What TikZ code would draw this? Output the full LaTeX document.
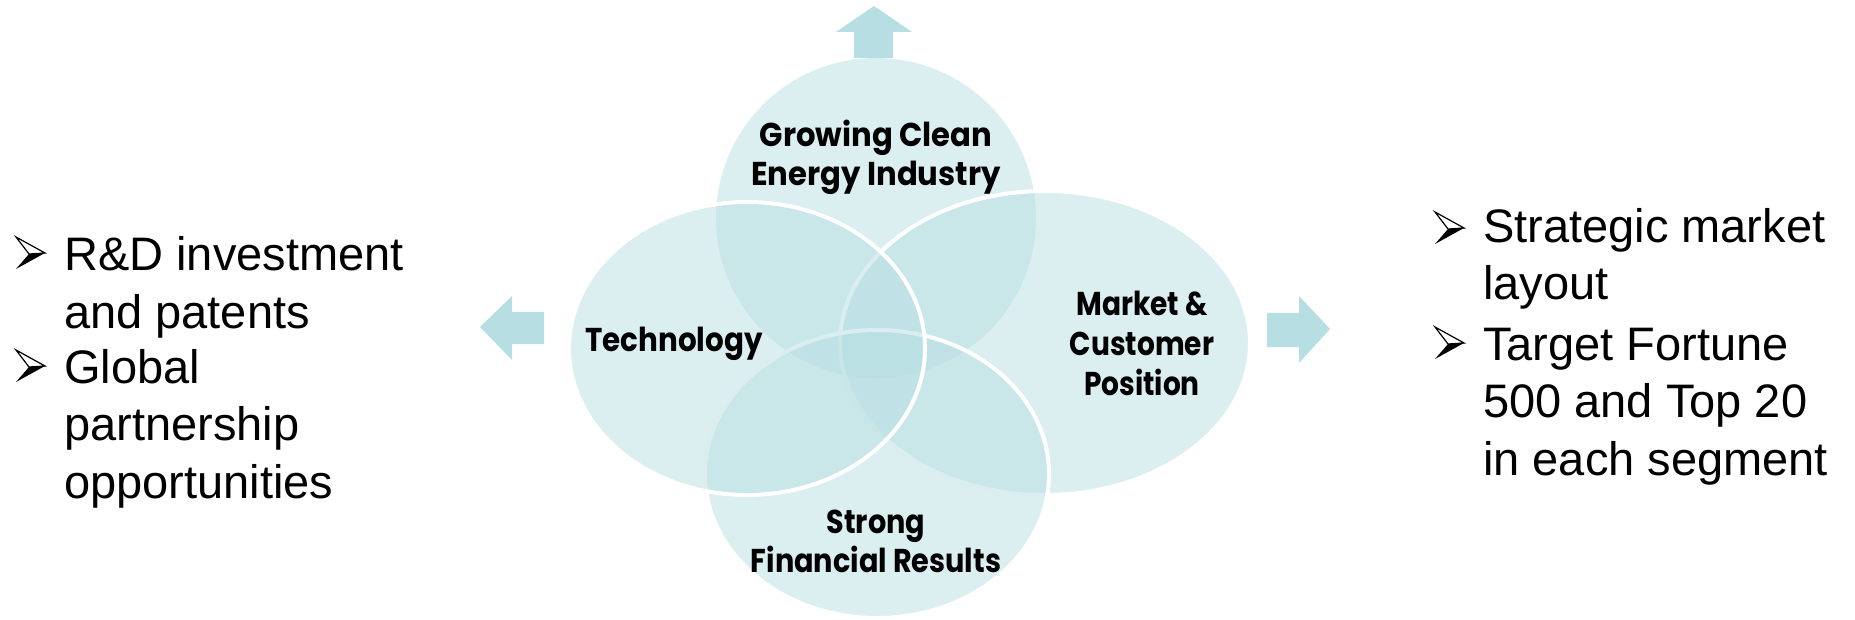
\documentclass[tikz,border=0pt]{standalone}
\usepackage{fontspec}
\setmainfont{Liberation Sans}
\newfontfamily\vennG{Poppins}[FakeStretch=0.93]
\newfontfamily\vennT{Poppins}[FakeStretch=0.89]
\newfontfamily\vennM{Poppins}[FakeStretch=0.85]
\newfontfamily\vennS{Poppins}[FakeStretch=0.87]
\definecolor{arrowc}{RGB}{183,222,226}
\tikzset{
  vennfill/.style={fill=arrowc, fill opacity=0.5},
  vennline/.style={draw=white, line width=4pt},
  blockarrow/.style={fill=arrowc, draw=none},
  venntext/.style={align=center, inner sep=0pt, text=black},
  bullettext/.style={font=\fontsize{47}{57.5}\selectfont, align=left, inner sep=0pt, anchor=base west, text=black},
  arrowbul/.pic={
    \fill[black] (13,1) -- (29,0) -- (0,16) -- cycle;
    \draw[black, fill=white, line width=1.2pt, line join=miter] (0,-16) -- (29,0) -- (13,1) -- cycle;
  }
}
\begin{document}
\begin{tikzpicture}[x=1pt,y=-1pt]
\useasboundingbox (0,0) rectangle (1855,620);
% block arrows
\fill[blockarrow] (874,6) -- (912,32) -- (893,32) -- (893,58) -- (854,58) -- (854,32) -- (836,32) -- cycle;
\fill[blockarrow] (480,327) -- (512,296) -- (512,312) -- (544,312) -- (544,344) -- (512,344) -- (512,360) -- cycle;
\fill[blockarrow] (1330,329) -- (1299,296) -- (1299,313) -- (1267,313) -- (1267,347) -- (1299,347) -- (1299,363) -- cycle;
% venn shapes
\fill[vennfill] (876,218) circle[radius=160pt];
\path[vennfill, vennline] (1045,343) ellipse[x radius=205pt, y radius=152pt];
\path[vennfill, vennline] (877,474) ellipse[x radius=172pt, y radius=144pt];
\path[vennfill, vennline] (747,348.5) ellipse[x radius=178pt, y radius=146.5pt];
% venn labels
\node[venntext, font=\vennG\bfseries\fontsize{33}{39}\selectfont] (grow) at (876,157) {Growing Clean\\Energy Industry};
\node[venntext, anchor=base west, font=\vennT\bfseries\fontsize{33}{39}\selectfont] (tech) at (585,351) {Technology};
\node[venntext, font=\vennM\bfseries\fontsize{33}{40}\selectfont] (market) at (1142,343) {Market \&\\Customer\\Position};
\node[venntext, font=\vennS\bfseries\fontsize{33}{39}\selectfont] (strong) at (876,541) {Strong\\Financial Results};
% side bullets
\pic at (16,253) {arrowbul};
\pic at (16,366) {arrowbul};
\node[bullettext] (l1) at (64,328) {R\&D investment\\and patents};
\node[bullettext] (l2) at (64,498) {Global\\partnership\\opportunities};
\pic at (1435,228) {arrowbul};
\pic at (1435,343) {arrowbul};
\node[bullettext] (r1) at (1483,300) {Strategic market\\layout};
\node[bullettext] (r2) at (1483,475) {Target Fortune\\500 and Top 20\\in each segment};
\end{tikzpicture}
\end{document}
